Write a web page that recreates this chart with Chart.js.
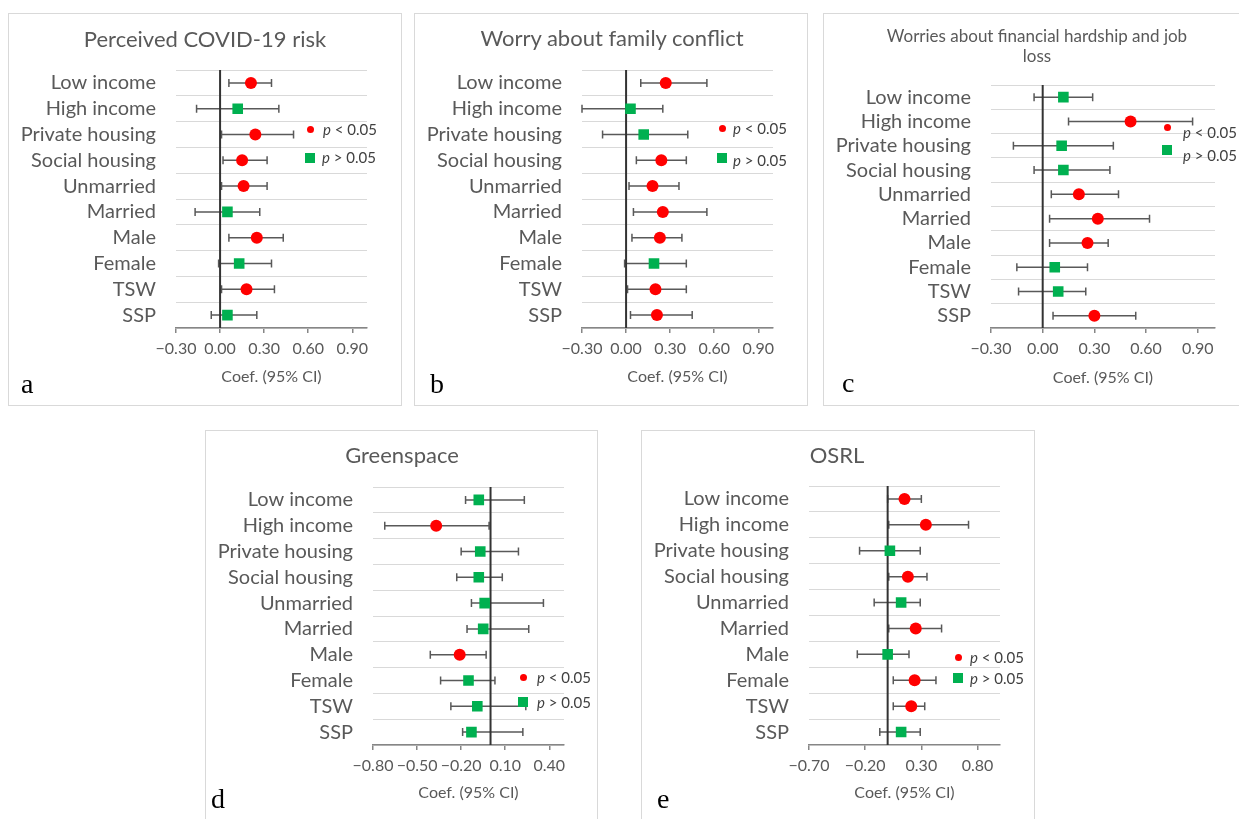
<!DOCTYPE html>
<html>
<head>
<meta charset="utf-8">
<script src="https://cdn.jsdelivr.net/npm/chart.js@4.4.1/dist/chart.umd.min.js"></script>
<style>
  body { margin: 0; background: #fff; width: 1239px; height: 819px; position: relative; overflow: hidden; font-family: Lato, sans-serif; }
  .box { position: absolute; border: 1px solid #d9d9d9; box-sizing: border-box; }
  canvas { position: absolute; }
  .title { position: absolute; width: 440px; text-align: center; color: #595959; white-space: nowrap; }
  .letter { position: absolute; font-family: "Liberation Serif", serif; font-size: 28px; line-height: 28px; color: #000; }
  .mark { position: absolute; }
  .legtext { position: absolute; font-size: 15px; line-height: 16px; color: #404040; white-space: nowrap; }
</style>
</head>
<body>
<script>
const categories = ['Low income', 'High income', 'Private housing', 'Social housing', 'Unmarried',
  'Married', 'Male', 'Female', 'TSW', 'SSP'];

// a - Perceived COVID-19 risk
const riskCoef  = [0.21, 0.12, 0.24, 0.15, 0.16, 0.05, 0.25, 0.13, 0.18, 0.05];
const riskLower = [0.06, -0.16, 0.01, 0.02, 0.01, -0.17, 0.06, -0.01, 0.01, -0.06];
const riskUpper = [0.35, 0.40, 0.50, 0.32, 0.32, 0.27, 0.43, 0.35, 0.37, 0.25];
const riskSig   = [1, 0, 1, 1, 1, 0, 1, 0, 1, 0];

// b - Worry about family conflict
const familyCoef  = [0.27, 0.03, 0.12, 0.24, 0.18, 0.25, 0.23, 0.19, 0.20, 0.21];
const familyLower = [0.10, -0.30, -0.16, 0.07, 0.02, 0.05, 0.04, -0.01, 0.01, 0.03];
const familyUpper = [0.55, 0.25, 0.42, 0.41, 0.36, 0.55, 0.38, 0.41, 0.41, 0.45];
const familySig   = [1, 0, 0, 1, 1, 1, 1, 0, 1, 1];

// c - Worries about financial hardship and job loss
const financeCoef  = [0.12, 0.51, 0.11, 0.12, 0.21, 0.32, 0.26, 0.07, 0.09, 0.30];
const financeLower = [-0.05, 0.15, -0.17, -0.05, 0.05, 0.04, 0.04, -0.15, -0.14, 0.06];
const financeUpper = [0.29, 0.87, 0.41, 0.39, 0.44, 0.62, 0.38, 0.26, 0.25, 0.54];
const financeSig   = [0, 1, 0, 0, 1, 1, 1, 0, 0, 1];

// d - Greenspace
const greenCoef  = [-0.08, -0.37, -0.07, -0.08, -0.04, -0.05, -0.21, -0.15, -0.09, -0.13];
const greenLower = [-0.17, -0.72, -0.20, -0.23, -0.13, -0.16, -0.41, -0.34, -0.27, -0.19];
const greenUpper = [0.23, -0.01, 0.19, 0.08, 0.36, 0.26, -0.03, 0.03, 0.24, 0.22];
const greenSig   = [0, 1, 0, 0, 0, 0, 1, 0, 0, 0];

// e - OSRL
const osrlCoef  = [0.15, 0.34, 0.02, 0.18, 0.12, 0.25, 0.00, 0.24, 0.21, 0.12];
const osrlLower = [0.00, 0.01, -0.25, 0.01, -0.12, 0.01, -0.27, 0.05, 0.05, -0.07];
const osrlUpper = [0.30, 0.72, 0.29, 0.35, 0.29, 0.48, 0.19, 0.43, 0.33, 0.29];
const osrlSig   = [1, 1, 0, 1, 0, 1, 0, 1, 1, 0];

const riskTicks  = [-0.3, 0, 0.3, 0.6, 0.9];
const greenTicks = [-0.8, -0.5, -0.2, 0.1, 0.4];
const osrlTicks  = [-0.7, -0.2, 0.3, 0.8];

const RED = '#ff0000';
const GREEN = '#00b050';

// box: [left, top, width, height]; area: [left, top, right, bottom] (page px)
const panels = [
  { letter: 'a', title: ['Perceived COVID-19 risk'], titleSize: 22, titlePos: [205, 39],
    coef: riskCoef, lower: riskLower, upper: riskUpper, sig: riskSig, ticks: riskTicks, min: -0.3, max: 1.0,
    box: [8, 13, 394, 393], area: [176, 70, 367, 328], axisTitleY: 377, letterPos: [21, 393],
    legend: [[310, 129], [323, 129], [310, 158], [322, 157]] },
  { letter: 'b', title: ['Worry about family conflict'], titleSize: 22, titlePos: [612, 38],
    coef: familyCoef, lower: familyLower, upper: familyUpper, sig: familySig, ticks: riskTicks, min: -0.3, max: 1.0,
    box: [414, 13, 394, 393], area: [582, 70, 773, 328], axisTitleY: 377, letterPos: [430, 393],
    legend: [[722, 128], [733, 128], [722, 158], [733, 160]] },
  { letter: 'c', title: ['Worries about financial hardship and job', 'loss'], titleSize: 17, titlePos: [1037, 46],
    coef: financeCoef, lower: financeLower, upper: financeUpper, sig: financeSig, ticks: riskTicks, min: -0.3, max: 1.0,
    box: [823, 13, 420, 393], area: [991, 85, 1215, 328], axisTitleY: 378, letterPos: [842, 392],
    legend: [[1167, 127], [1183, 132], [1167, 150], [1183, 155]] },
  { letter: 'd', title: ['Greenspace'], titleSize: 22, titlePos: [402, 455],
    coef: greenCoef, lower: greenLower, upper: greenUpper, sig: greenSig, ticks: greenTicks, min: -0.8, max: 0.5,
    box: [205, 430, 393, 400], area: [373, 487, 564, 745], axisTitleY: 793, letterPos: [211, 808],
    legend: [[523, 677], [537, 677], [523, 702], [537, 702]] },
  { letter: 'e', title: ['OSRL'], titleSize: 22, titlePos: [837, 455],
    coef: osrlCoef, lower: osrlLower, upper: osrlUpper, sig: osrlSig, ticks: osrlTicks, min: -0.7, max: 1.0,
    box: [641, 430, 394, 400], area: [809, 486, 1000, 745], axisTitleY: 793, letterPos: [657, 808],
    legend: [[958, 657], [970, 657], [958, 678], [970, 678]] }
];

// error bars and the vertical zero line, drawn under the markers
const errorBars = {
  id: 'errorBars',
  beforeDatasetsDraw(chart, args, opts) {
    const { ctx, chartArea, scales: { x, y } } = chart;
    ctx.save();
    ctx.strokeStyle = '#595959';
    ctx.lineWidth = 1.5;
    opts.lower.forEach((lo, i) => {
      const py = y.getPixelForValue(i);
      const x1 = x.getPixelForValue(lo);
      const x2 = x.getPixelForValue(opts.upper[i]);
      ctx.beginPath();
      ctx.moveTo(x1, py); ctx.lineTo(x2, py);
      ctx.moveTo(x1, py - 4); ctx.lineTo(x1, py + 4);
      ctx.moveTo(x2, py - 4); ctx.lineTo(x2, py + 4);
      ctx.stroke();
    });
    const zx = x.getPixelForValue(0);
    ctx.strokeStyle = '#333333';
    ctx.lineWidth = 2;
    ctx.beginPath();
    ctx.moveTo(zx, chartArea.top);
    ctx.lineTo(zx, chartArea.bottom);
    ctx.stroke();
    ctx.restore();
  }
};

function addDiv(cls, css, html) {
  const d = document.createElement('div');
  d.className = cls;
  Object.assign(d.style, css);
  if (html) d.innerHTML = html;
  document.body.appendChild(d);
  return d;
}

const fmt = v => (v < -1e-9 ? '\u2212' : '') + Math.abs(v).toFixed(2);

panels.forEach(p => {
  const [bl, bt, bw, bh] = p.box;
  const [al, at, ar, ab] = p.area;
  addDiv('box', { left: bl + 'px', top: bt + 'px', width: bw + 'px', height: bh + 'px' });

  const canvas = document.createElement('canvas');
  canvas.width = bw; canvas.height = bh;
  Object.assign(canvas.style, { left: bl + 'px', top: bt + 'px', width: bw + 'px', height: bh + 'px' });
  document.body.appendChild(canvas);

  const axisFont = 16;
  new Chart(canvas, {
    type: 'scatter',
    data: {
      datasets: [{
        data: p.coef.map((v, i) => ({ x: v, y: categories[i] })),
        pointStyle: p.sig.map(s => s ? 'circle' : 'rect'),
        pointRadius: p.sig.map(s => s ? 6 : 7.5),
        pointHoverRadius: p.sig.map(s => s ? 6 : 7.5),
        backgroundColor: p.sig.map(s => s ? RED : GREEN),
        borderWidth: 0
      }]
    },
    options: {
      responsive: false,
      animation: false,
      layout: { padding: { left: 0, top: at - bt, right: bl + bw - ar, bottom: 0 } },
      plugins: {
        legend: { display: false },
        tooltip: { enabled: false },
        errorBars: { lower: p.lower, upper: p.upper }
      },
      scales: {
        x: {
          type: 'linear',
          min: p.min,
          max: p.max,
          z: 1,
          afterBuildTicks: s => { s.ticks = p.ticks.map(v => ({ value: v })); },
          afterFit: s => { s.height = bt + bh - ab; },
          grid: { drawOnChartArea: false, drawTicks: true, tickLength: 5, color: '#868686', lineWidth: 1.5 },
          border: { color: '#868686', width: 1.5 },
          ticks: {
            autoSkip: false, maxRotation: 0, padding: 6,
            font: { family: 'Lato', size: axisFont }, color: '#595959',
            callback: v => fmt(v)
          },
          title: {
            display: true, text: 'Coef. (95% CI)', color: '#595959',
            font: { family: 'Lato', size: axisFont },
            padding: { top: 0, bottom: (bt + bh - p.axisTitleY) - axisFont * 0.6 }
          }
        },
        y: {
          type: 'category',
          labels: categories,
          offset: true,
          afterFit: s => { s.width = al - bl; },
          grid: { offset: true, drawTicks: false, color: '#d9d9d9', lineWidth: 1 },
          border: { display: false },
          ticks: { autoSkip: false, font: { family: 'Lato', size: 20 }, color: '#595959', padding: 20 }
        }
      }
    },
    plugins: [errorBars]
  });

  // panel title
  const ts = p.titleSize;
  const lh = ts * 1.2;
  addDiv('title', {
    left: (p.titlePos[0] - 220) + 'px',
    top: (p.titlePos[1] - lh * p.title.length / 2) + 'px',
    fontSize: ts + 'px', lineHeight: lh + 'px'
  }, p.title.join('<br>'));

  // panel letter
  addDiv('letter', { left: p.letterPos[0] + 'px', top: (p.letterPos[1] - 23) + 'px' }, p.letter);

  // legend
  const [dot, dotText, sq, sqText] = p.legend;
  addDiv('mark', { left: (dot[0] - 3.5) + 'px', top: (dot[1] - 3.5) + 'px', width: '7px', height: '7px',
    borderRadius: '50%', background: RED });
  addDiv('mark', { left: (sq[0] - 5) + 'px', top: (sq[1] - 5) + 'px', width: '10px', height: '10px',
    background: GREEN });
  addDiv('legtext', { left: dotText[0] + 'px', top: (dotText[1] - 8) + 'px' }, '<i>p</i> &lt; 0.05');
  addDiv('legtext', { left: sqText[0] + 'px', top: (sqText[1] - 8) + 'px' }, '<i>p</i> &gt; 0.05');
});
</script>
</body>
</html>
